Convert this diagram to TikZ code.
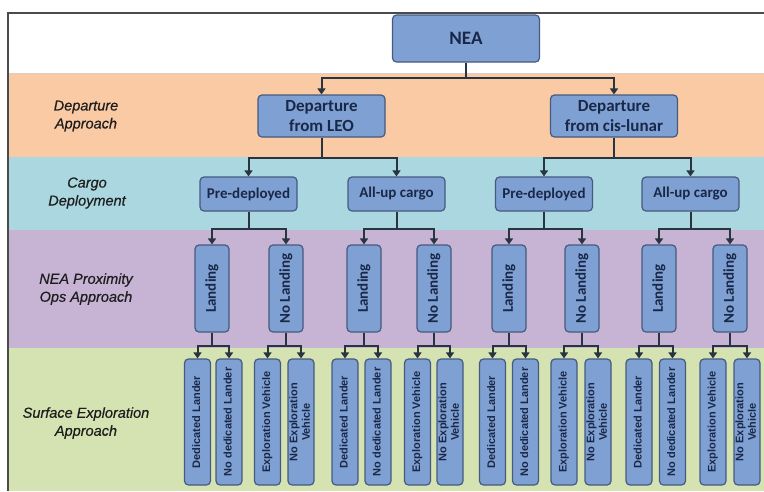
\documentclass[tikz,border=0pt]{standalone}
\usepackage{fontspec}
\setmainfont{Carlito}
\newfontfamily\labelfont{Liberation Sans}
\newfontfamily\heavylabelfont[FakeBold=0.5]{Liberation Sans}
\usetikzlibrary{arrows.meta}

\definecolor{bandpeach}{RGB}{250,202,165}
\definecolor{bandblue}{RGB}{170,215,224}
\definecolor{bandlilac}{RGB}{199,179,212}
\definecolor{bandgreen}{RGB}{213,226,177}
\definecolor{boxfill}{RGB}{127,160,211}
\definecolor{boxline}{RGB}{70,90,128}
\definecolor{boxtext}{RGB}{26,40,72}
\definecolor{linecol}{RGB}{40,52,64}
\definecolor{labeltext}{RGB}{30,30,30}
\definecolor{framecol}{RGB}{75,75,75}
\definecolor{seamcol}{RGB}{222,205,198}

% rotated (bottom-to-top) text for the narrow leaf boxes
\newcommand\leaftext[1]{\rotatebox{90}{\begin{tabular}{@{}c@{}}#1\end{tabular}}}

\begin{document}
\begin{tikzpicture}[x=1pt,y=-1pt,
  box/.style={draw=boxline, fill=boxfill, rounded corners=4pt, line width=1.2pt,
    inner sep=0pt, text=boxtext, align=center, font=\bfseries},
  rootbox/.style={box, minimum width=147pt, minimum height=47pt,
    font=\bfseries\fontsize{19}{22}\selectfont},
  departbox/.style={box, minimum width=127pt, minimum height=42pt,
    font=\bfseries\fontsize{17}{20}\selectfont},
  cargobox/.style={box, minimum width=97pt, minimum height=34pt,
    font=\bfseries\fontsize{15}{18}\selectfont},
  opsbox/.style={box, minimum width=34pt, minimum height=87pt,
    font=\bfseries\fontsize{15}{18}\selectfont},
  leafbox/.style={box, minimum width=26pt, minimum height=126pt,
    font=\labelfont\bfseries\fontsize{11}{12.5}\selectfont},
  conn/.style={draw=linecol, line width=2pt, line join=miter,
    -{Triangle[width=8pt,length=6pt]}},
  bandlabel/.style={text=labeltext, align=center,
    font=\heavylabelfont\itshape\fontsize{14.5}{18}\selectfont}
]
\useasboundingbox (0,0) rectangle (764,491);
\fill[white] (0,0) rectangle (764,491);

% horizontal bands, one per decision level
\fill[bandpeach] (8,73) rectangle (764,157);
\fill[bandblue]  (8,157) rectangle (764,230);
\fill[bandlilac] (8,230) rectangle (764,348);
\fill[bandgreen] (8,348) rectangle (764,491);
\draw[seamcol, line width=1pt] (8,73) -- (764,73);
\draw[framecol, line width=2pt] (8,491) -- (8,13) -- (764,13);

% level labels
\node[bandlabel] (lab1) at (86,116) {Departure\\Approach};
\node[bandlabel] (lab2) at (87,193) {Cargo\\Deployment};
\node[bandlabel] (lab3) at (86,289) {NEA Proximity\\Ops Approach};
\node[bandlabel] (lab4) at (86,423) {Surface Exploration\\Approach};

% tree nodes
\node[rootbox] (nea) at (466,38.5) {NEA};
\node[departbox] (leo) at (321.5,116) {Departure\\from LEO};
\node[departbox] (cis) at (614,116) {Departure\\from cis-lunar};

\node[cargobox] (c1) at (248.5,194) {Pre-deployed};
\node[cargobox] (c2) at (396.5,194) {All-up cargo};
\node[cargobox] (c3) at (544,194) {Pre-deployed};
\node[cargobox] (c4) at (690.5,194) {All-up cargo};

\foreach \x/\t [count=\i] in {212/Landing, 286/No Landing, 364/Landing, 434/No Landing,
    509/Landing, 582/No Landing, 659/Landing, 730/No Landing}
  \node[opsbox] (o\i) at (\x,288.5) {\rotatebox{90}{\t}};

\foreach \x/\t [count=\i] in {
    197.5/{Dedicated Lander}, 229/{No dedicated Lander},
    267.5/{Exploration Vehicle}, 301/{No Exploration\\Vehicle},
    345/{Dedicated Lander}, 378/{No dedicated Lander},
    417.5/{Exploration Vehicle}, 450/{No Exploration\\Vehicle},
    492.5/{Dedicated Lander}, 525.5/{No dedicated Lander},
    564/{Exploration Vehicle}, 598/{No Exploration\\Vehicle},
    639/{Dedicated Lander}, 672.5/{No dedicated Lander},
    713/{Exploration Vehicle}, 747/{No Exploration\\Vehicle}}
  \node[leafbox] (l\i) at (\x,422) {\leaftext{\t}};

% connectors
\foreach \c in {leo,cis}
  \draw[conn] (nea.south) -- ++(0,15.5) -| (\c.north);
\foreach \c in {c1,c2}
  \draw[conn] (leo.south) -- ++(0,20) -| (\c.north);
\foreach \c in {c3,c4}
  \draw[conn] (cis.south) -- ++(0,20) -| (\c.north);
\foreach \p/\a/\b in {c1/o1/o2, c2/o3/o4, c3/o5/o6, c4/o7/o8} {
  \draw[conn] (\p.south) -- ++(0,17) -| (\a.north);
  \draw[conn] (\p.south) -- ++(0,17) -| (\b.north);
}
\foreach \p [evaluate=\p as \a using int(2*\p-1), evaluate=\p as \b using int(2*\p)] in {1,...,8} {
  \draw[conn] (o\p.south) -- ++(0,13) -| (l\a.north);
  \draw[conn] (o\p.south) -- ++(0,13) -| (l\b.north);
}
\end{tikzpicture}
\end{document}
